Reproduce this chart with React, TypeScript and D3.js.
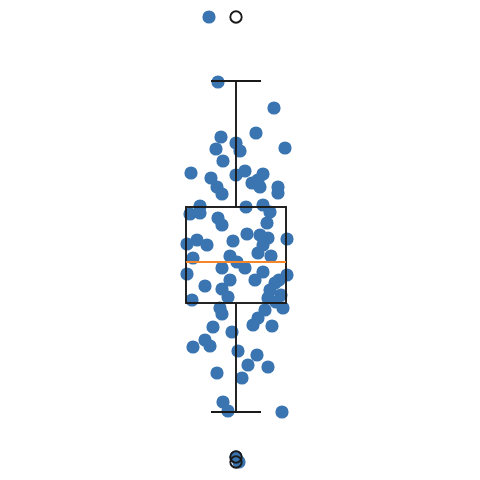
import React from "react";
import * as d3 from "d3";

// jitter (horizontal offset within the category band) and value of each point
const pointJitter = [
  -0.18, 0.38, 0.2, -0.15, 0.0, -0.2, 0.04, 0.49, -0.13, -0.45,
  -0.25, 0.0, 0.09, 0.27, 0.16, 0.22, 0.24, -0.19, -0.14, 0.42,
  0.42, -0.36, -0.46, -0.36, -0.18, -0.14, 0.1, 0.27, 0.34, 0.31,
  0.11, 0.24, 0.32, -0.03, -0.39, -0.29, -0.49, 0.51, 0.22, 0.35,
  0.27, -0.43, -0.06, -0.14, 0.01, 0.09, -0.49, 0.27, 0.19, 0.51,
  -0.31, -0.06, -0.14, -0.08, 0.39, 0.34, 0.32, 0.43, -0.44, 0.47,
  0.29, -0.16, -0.14, 0.22, 0.36, -0.23, -0.04, 0.17, -0.31, -0.43,
  -0.26, 0.02, 0.21, 0.12, 0.32, -0.19, 0.06, -0.13, -0.08, 0.46,
  0.03, 0.45, 0.4, 0.0,
];
const pointValues = [
  3.6, 3.08, 2.58, 2.5, 2.38, 2.26, 2.22, 2.28, 2.02, 1.78,
  1.68, 1.74, 1.82, 1.76, 1.58, 1.64, 1.5, 1.5, 1.36, 1.5,
  1.38, 1.12, 0.96, 0.98, 0.88, 0.74, 1.1, 1.14, 1.0, 0.78,
  0.56, 0.54, 0.48, 0.42, 0.44, 0.34, 0.36, 0.46, 0.18, 0.12,
  0.34, 0.08, 0.12, -0.12, 0.0, -0.12, -0.24, -0.2, -0.36, -0.26,
  -0.48, -0.36, -0.54, -0.7, -0.42, -0.56, -0.72, -0.36, -0.76, -0.92,
  -0.96, -0.92, -1.04, -1.12, -1.28, -1.3, -1.4, -1.26, -1.56, -1.7,
  -1.68, -1.78, -1.86, -2.06, -2.1, -2.22, -2.32, -2.8, -2.98, -3.0,
  -4.0, -0.66, -0.8, -3.9,
];

// box statistics
const boxQ1 = -0.82;
const boxMedian = 0.0;
const boxQ3 = 1.1;
const whiskerLow = -3.0;
const whiskerHigh = 3.62;
const outliers = [-3.9, -4.0];

const legendItems = ["points", "outliers"];

const W = 480;
const H = 480;
const BLUE = "#3a75b1";
const ORANGE = "#f5862a";
const INK = "#1a1a1a";

export default function App() {
  const y = d3.scaleLinear().domain([-4, 3.6]).range([462, 82]);
  const x = d3.scaleLinear().domain([-0.5, 0.5]).range([186, 286]);
  const cx = x(0);
  const capHalf = (x(0.5) - x(-0.5)) / 4;
  const legendX = d3.scalePoint().domain(legendItems).range([209, 236]);

  return (
    <svg
      width={W}
      height={H}
      style={{ position: "absolute", left: 0, top: 0, background: "#fff" }}
    >
      {/* legend markers */}
      <circle cx={legendX("points")} cy={17} r={6.6} fill={BLUE} />
      <circle
        cx={legendX("outliers")}
        cy={17}
        r={5.7}
        fill="none"
        stroke={INK}
        strokeWidth={1.9}
      />

      {/* jittered points */}
      {pointValues.map((v, i) => (
        <circle key={i} cx={x(pointJitter[i])} cy={y(v)} r={6.6} fill={BLUE} />
      ))}

      {/* box */}
      <g stroke={INK} strokeWidth={1.9} fill="none">
        <line x1={cx} x2={cx} y1={y(boxQ3)} y2={y(whiskerHigh)} />
        <line x1={cx} x2={cx} y1={y(boxQ1)} y2={y(whiskerLow)} />
        <line x1={cx - capHalf} x2={cx + capHalf} y1={y(whiskerHigh)} y2={y(whiskerHigh)} />
        <line x1={cx - capHalf} x2={cx + capHalf} y1={y(whiskerLow)} y2={y(whiskerLow)} />
        <rect
          x={x(-0.5)}
          y={y(boxQ3)}
          width={x(0.5) - x(-0.5)}
          height={y(boxQ1) - y(boxQ3)}
        />
        {outliers.map((o, i) => (
          <circle key={i} cx={cx} cy={y(o)} r={5.7} />
        ))}
      </g>
      <line
        x1={x(-0.5)}
        x2={x(0.5)}
        y1={y(boxMedian)}
        y2={y(boxMedian)}
        stroke={ORANGE}
        strokeWidth={1.9}
      />
    </svg>
  );
}
